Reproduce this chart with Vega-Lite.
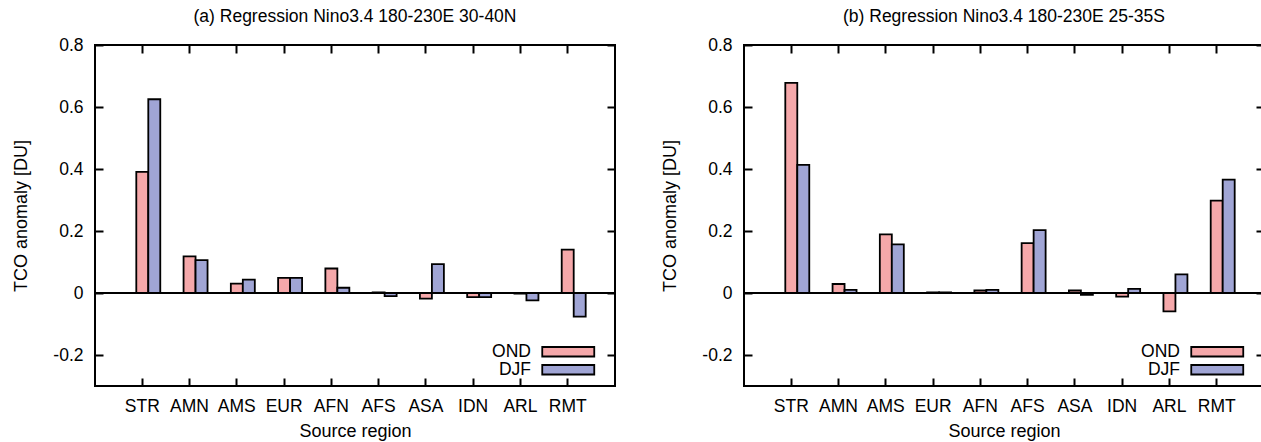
{
  "$schema": "https://vega.github.io/schema/vega-lite/v6.json",
  "padding": {"left": 11, "top": 6, "right": 0, "bottom": 0},
  "config": {
    "font": "Liberation Sans",
    "view": {"stroke": "black", "strokeWidth": 2},
    "title": {"fontSize": 17.5, "fontWeight": "normal", "color": "black", "offset": 11},
    "axis": {
      "domain": false,
      "grid": false,
      "tickColor": "black",
      "tickWidth": 2,
      "tickSize": -8,
      "labelColor": "black",
      "labelFontSize": 17.5,
      "titleColor": "black",
      "titleFontSize": 18,
      "titleFontWeight": "normal"
    },
    "legend": {
      "orient": "none",
      "legendX": 464.5,
      "legendY": 298,
      "padding": 0,
      "symbolType": "M-5.2,-0.95H5.2V0.95H-5.2Z",
      "symbolSize": 100,
      "symbolStrokeColor": "black",
      "symbolStrokeWidth": 1.8,
      "labelAlign": "right",
      "labelOffset": -46,
      "labelFontSize": 17.5,
      "labelColor": "black",
      "rowPadding": -2.5
    }
  },
  "datasets": {
    "north": [
      {"region": "STR", "season": "OND", "value": 0.391},
      {"region": "STR", "season": "DJF", "value": 0.625},
      {"region": "AMN", "season": "OND", "value": 0.118},
      {"region": "AMN", "season": "DJF", "value": 0.106},
      {"region": "AMS", "season": "OND", "value": 0.030},
      {"region": "AMS", "season": "DJF", "value": 0.043},
      {"region": "EUR", "season": "OND", "value": 0.049},
      {"region": "EUR", "season": "DJF", "value": 0.049},
      {"region": "AFN", "season": "OND", "value": 0.079},
      {"region": "AFN", "season": "DJF", "value": 0.017},
      {"region": "AFS", "season": "OND", "value": 0.002},
      {"region": "AFS", "season": "DJF", "value": -0.010},
      {"region": "ASA", "season": "OND", "value": -0.018},
      {"region": "ASA", "season": "DJF", "value": 0.093},
      {"region": "IDN", "season": "OND", "value": -0.013},
      {"region": "IDN", "season": "DJF", "value": -0.013},
      {"region": "ARL", "season": "OND", "value": -0.002},
      {"region": "ARL", "season": "DJF", "value": -0.024},
      {"region": "RMT", "season": "OND", "value": 0.140},
      {"region": "RMT", "season": "DJF", "value": -0.076}
    ],
    "south": [
      {"region": "STR", "season": "OND", "value": 0.678},
      {"region": "STR", "season": "DJF", "value": 0.413},
      {"region": "AMN", "season": "OND", "value": 0.029},
      {"region": "AMN", "season": "DJF", "value": 0.010},
      {"region": "AMS", "season": "OND", "value": 0.189},
      {"region": "AMS", "season": "DJF", "value": 0.157},
      {"region": "EUR", "season": "OND", "value": 0.002},
      {"region": "EUR", "season": "DJF", "value": 0.002},
      {"region": "AFN", "season": "OND", "value": 0.008},
      {"region": "AFN", "season": "DJF", "value": 0.010},
      {"region": "AFS", "season": "OND", "value": 0.161},
      {"region": "AFS", "season": "DJF", "value": 0.203},
      {"region": "ASA", "season": "OND", "value": 0.008},
      {"region": "ASA", "season": "DJF", "value": -0.006},
      {"region": "IDN", "season": "OND", "value": -0.012},
      {"region": "IDN", "season": "DJF", "value": 0.013},
      {"region": "ARL", "season": "OND", "value": -0.059},
      {"region": "ARL", "season": "DJF", "value": 0.060},
      {"region": "RMT", "season": "OND", "value": 0.298},
      {"region": "RMT", "season": "DJF", "value": 0.366}
    ]
  },
  "hconcat": [
    {
      "title": "(a) Regression Nino3.4 180-230E 30-40N",
      "width": 520,
      "height": 341,
      "data": {"name": "north"},
      "layer": [
        {
          "mark": {"type": "rule", "color": "black", "strokeWidth": 2},
          "encoding": {"y": {"datum": 0, "type": "quantitative", "scale": {"domain": [-0.3, 0.8], "nice": false, "zero": false}, "axis": null}}
        },
        {
          "mark": {"type": "bar", "stroke": "black", "strokeWidth": 1.8},
          "encoding": {
            "x": {"field": "region", "type": "nominal", "sort": null,
              "scale": {"domain": ["STR", "AMN", "AMS", "EUR", "AFN", "AFS", "ASA", "IDN", "ARL", "RMT"], "paddingInner": 0.239, "paddingOuter": 0.62},
              "axis": {"orient": "bottom", "title": "Source region", "labelAngle": 0, "bandPosition": 0.5, "labelPadding": 19, "titlePadding": 8}},
            "xOffset": {"field": "season", "type": "nominal", "scale": {"domain": ["pad", "OND", "DJF"], "paddingInner": 0, "paddingOuter": 0}},
            "y": {"field": "value", "type": "quantitative",
              "scale": {"domain": [-0.3, 0.8], "nice": false, "zero": false},
              "axis": {"orient": "left", "title": "TCO anomaly [DU]", "values": [-0.2, 0, 0.2, 0.4, 0.6, 0.8], "labelExpr": "toString(datum.value)", "labelPadding": 20, "titlePadding": 22}},
            "color": {"field": "season", "type": "nominal",
              "scale": {"domain": ["OND", "DJF"], "range": ["#F5A8AA", "#A0A5D5"]},
              "legend": {"title": null}}
          }
        },
        {
          "mark": {"type": "point", "opacity": 0, "size": 1},
          "encoding": {
            "x": {"field": "region", "type": "nominal", "sort": null,
              "axis": {"orient": "top", "title": null, "labels": false, "bandPosition": 0.5}},
            "y": {"field": "value", "type": "quantitative",
              "axis": {"orient": "right", "title": null, "labels": false, "values": [-0.2, 0, 0.2, 0.4, 0.6, 0.8]}}
          }
        }
      ],
      "resolve": {"axis": {"x": "independent", "y": "independent"}}
    },
    {
      "title": "(b) Regression Nino3.4 180-230E 25-35S",
      "width": 520,
      "height": 341,
      "data": {"name": "south"},
      "layer": [
        {
          "mark": {"type": "rule", "color": "black", "strokeWidth": 2},
          "encoding": {"y": {"datum": 0, "type": "quantitative", "scale": {"domain": [-0.3, 0.8], "nice": false, "zero": false}, "axis": null}}
        },
        {
          "mark": {"type": "bar", "stroke": "black", "strokeWidth": 1.8},
          "encoding": {
            "x": {"field": "region", "type": "nominal", "sort": null,
              "scale": {"domain": ["STR", "AMN", "AMS", "EUR", "AFN", "AFS", "ASA", "IDN", "ARL", "RMT"], "paddingInner": 0.239, "paddingOuter": 0.62},
              "axis": {"orient": "bottom", "title": "Source region", "labelAngle": 0, "bandPosition": 0.5, "labelPadding": 19, "titlePadding": 8}},
            "xOffset": {"field": "season", "type": "nominal", "scale": {"domain": ["pad", "OND", "DJF"], "paddingInner": 0, "paddingOuter": 0}},
            "y": {"field": "value", "type": "quantitative",
              "scale": {"domain": [-0.3, 0.8], "nice": false, "zero": false},
              "axis": {"orient": "left", "title": "TCO anomaly [DU]", "values": [-0.2, 0, 0.2, 0.4, 0.6, 0.8], "labelExpr": "toString(datum.value)", "labelPadding": 20, "titlePadding": 22}},
            "color": {"field": "season", "type": "nominal",
              "scale": {"domain": ["OND", "DJF"], "range": ["#F5A8AA", "#A0A5D5"]},
              "legend": {"title": null}}
          }
        },
        {
          "mark": {"type": "point", "opacity": 0, "size": 1},
          "encoding": {
            "x": {"field": "region", "type": "nominal", "sort": null,
              "axis": {"orient": "top", "title": null, "labels": false, "bandPosition": 0.5}},
            "y": {"field": "value", "type": "quantitative",
              "axis": {"orient": "right", "title": null, "labels": false, "values": [-0.2, 0, 0.2, 0.4, 0.6, 0.8]}}
          }
        }
      ],
      "resolve": {"axis": {"x": "independent", "y": "independent"}}
    }
  ],
  "spacing": 43,
  "resolve": {"legend": {"color": "independent"}}
}
